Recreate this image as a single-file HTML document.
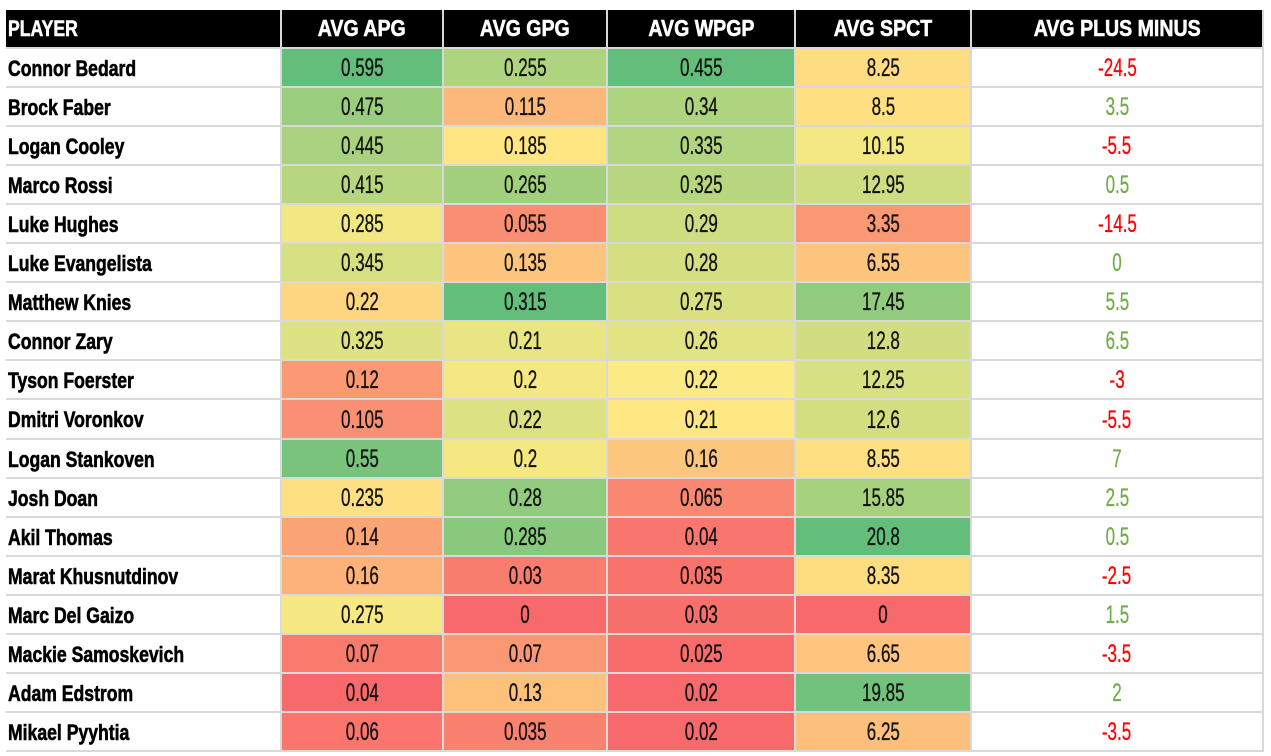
<!DOCTYPE html>
<html><head><meta charset="utf-8"><style>
body{margin:0;background:#fff;width:1271px;height:756px;overflow:hidden;position:relative;font-family:"Liberation Sans",sans-serif}
.c{position:absolute;box-sizing:border-box;display:flex;align-items:center;justify-content:center;border-right:2px solid #d9d9d9;border-bottom:2px solid #d9d9d9;font-size:25px;color:#111;white-space:nowrap;padding-top:2px}
.c span{display:inline-block;transform:scaleX(0.68);-webkit-text-stroke:0.3px currentColor}
.h{background:#000;color:#fff;font-weight:bold;font-size:23px;border-color:#d9d9d9;padding-top:0}
.h span{transform:scaleX(0.85);-webkit-text-stroke:0.6px #fff}
.n{justify-content:flex-start;padding-left:2px;font-weight:bold;font-size:22px;color:#000}
.n span{transform-origin:left center;transform:scaleX(0.8);-webkit-text-stroke:0.6px #000}
</style></head><body>
<div id="t"></div>
<script>
const headers=["PLAYER","AVG APG","AVG GPG","AVG WPGP","AVG SPCT","AVG PLUS MINUS"];
const players=["Connor Bedard","Brock Faber","Logan Cooley","Marco Rossi","Luke Hughes","Luke Evangelista","Matthew Knies","Connor Zary","Tyson Foerster","Dmitri Voronkov","Logan Stankoven","Josh Doan","Akil Thomas","Marat Khusnutdinov","Marc Del Gaizo","Mackie Samoskevich","Adam Edstrom","Mikael Pyyhtia"];
const apg=[0.595,0.475,0.445,0.415,0.285,0.345,0.22,0.325,0.12,0.105,0.55,0.235,0.14,0.16,0.275,0.07,0.04,0.06];
const gpg=[0.255,0.115,0.185,0.265,0.055,0.135,0.315,0.21,0.2,0.22,0.2,0.28,0.285,0.03,0,0.07,0.13,0.035];
const wpgp=[0.455,0.34,0.335,0.325,0.29,0.28,0.275,0.26,0.22,0.21,0.16,0.065,0.04,0.035,0.03,0.025,0.02,0.02];
const spct=[8.25,8.5,10.15,12.95,3.35,6.55,17.45,12.8,12.25,12.6,8.55,15.85,20.8,8.35,0,6.65,19.85,6.25];
const pm=[-24.5,3.5,-5.5,0.5,-14.5,0,5.5,6.5,-3,-5.5,7,2.5,0.5,-2.5,1.5,-3.5,2,-3.5];
const xs=[6,282,444,608,796,972,1264];
const top0=10,hh=39,rh=39.05;
const t=document.getElementById('t');
function lerp(a,b,f){return a.map((v,i)=>Math.round(v+(b[i]-v)*f));}
function scale(arr){
  const s=[...arr].sort((a,b)=>a-b),mn=s[0],mx=s[s.length-1];
  const m=s.length%2?s[(s.length-1)/2]:(s[s.length/2-1]+s[s.length/2])/2;
  const R=[248,105,107],Y=[255,235,132],G=[99,190,123];
  return v=>{let c;if(v<=m)c=lerp(R,Y,m===mn?1:(v-mn)/(m-mn));else c=lerp(Y,G,(v-m)/(mx-m));return `rgb(${c})`;};
}
function cell(x0,x1,y,h,txt,cls){
  const d=document.createElement('div');
  d.className='c '+cls;
  d.style.left=x0+'px';d.style.top=y+'px';d.style.width=(x1-x0)+'px';d.style.height=h+'px';
  const s=document.createElement('span');s.textContent=txt;d.appendChild(s);
  t.appendChild(d);return d;
}
headers.forEach((h,i)=>{
  const d=cell(xs[i],xs[i+1],top0,hh,h,'h'+(i===0?' n':''));
  if(i===0){d.style.color='#fff';d.firstChild.style.webkitTextStroke='0.6px #fff';}
  
  
});
const cols=[apg,gpg,wpgp,spct];
const names=['apg','gpg','wpgp','spct'];
const sc=cols.map(scale);
players.forEach((p,r)=>{
  const y=Math.round(top0+hh+r*rh);const h=Math.round(top0+hh+(r+1)*rh)-y;
  const d=cell(xs[0],xs[1],y,h,p,'n');
  
  
  cols.forEach((col,k)=>{
    const e=cell(xs[k+1],xs[k+2],y,h,String(col[r]),'');
    e.style.background=sc[k](col[r]);
    
    
  });
  const e=cell(xs[5],xs[6],y,h,String(pm[r]),'');
  e.style.color=pm[r]<0?'#ff0000':'#70ad47';
  
  
});
</script>
</body></html>
